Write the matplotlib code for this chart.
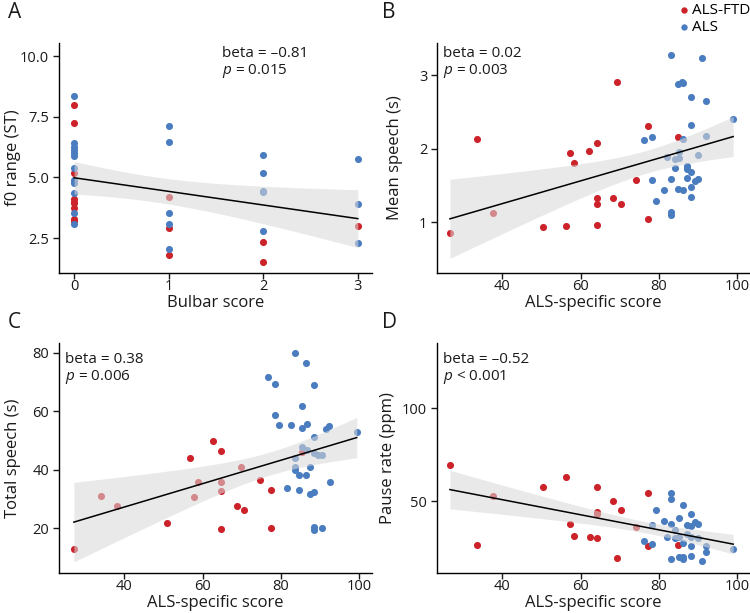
import numpy as np
import matplotlib
matplotlib.use("Agg")
import matplotlib.pyplot as plt

plt.rcParams['font.family'] = ['Open Sans', 'DejaVu Sans']
plt.rcParams['mathtext.fontset'] = 'custom'
plt.rcParams['mathtext.it'] = 'Open Sans:italic'
plt.rcParams['mathtext.rm'] = 'Open Sans'

# ---- data ----
# Panel A: f0 range (ST) vs bulbar score
a_ftd_x = [0, 0, 0, 0, 0, 0, 0, 0, 0, 1, 1, 1, 2, 2, 3]
a_ftd_y = [7.98, 7.23, 5.17, 4.09, 4.00, 3.93, 3.72, 3.27, 3.20, 4.18, 2.90, 1.80, 2.35, 1.51, 2.99]
a_als_x = [0, 0, 0, 0, 0, 0, 0, 0, 0, 0, 0, 0, 1, 1, 1, 1, 1, 2, 2, 2, 2, 2, 3, 3, 3]
a_als_y = [8.35, 6.40, 6.26, 6.13, 6.01, 5.88, 5.37, 4.89, 4.78, 4.37, 3.54, 3.10,
           7.13, 6.46, 3.52, 3.10, 2.05, 5.92, 5.19, 4.41, 4.45, 2.79, 5.74, 3.89, 2.28]

# Panel B: mean speech (s) vs ALS-specific score
b_ftd_x = [33.5, 69.3, 77.2, 85.0, 64.3, 57.4, 62.2, 58.4, 74.1, 64.3, 64.3, 68.3, 70.3,
           77.2, 50.4, 56.3, 64.3, 37.5, 26.6]
b_ftd_y = [2.13, 2.91, 2.31, 2.16, 2.08, 1.94, 1.97, 1.81, 1.58, 1.33, 1.25, 1.33, 1.25,
           1.05, 0.93, 0.95, 0.96, 1.13, 0.86]
b_als_x = [83.1, 91.0, 85.0, 86.0, 86.3, 88.2, 92.0, 99.0, 88.2, 78.2, 76.3, 86.2, 92.0,
           82.2, 84.2, 85.2, 85.2, 90.1, 84.2, 87.1, 87.1, 88.2, 83.1, 87.1, 90.1, 89.2,
           88.2, 78.2, 81.2, 85.0, 86.2, 88.2, 79.2, 83.1, 83.1]
b_als_y = [3.28, 3.23, 2.88, 2.91, 2.89, 2.70, 2.65, 2.40, 2.33, 2.16, 2.12, 2.14, 2.17,
           1.89, 1.86, 1.87, 1.95, 1.91, 1.74, 1.77, 1.72, 1.69, 1.59, 1.60, 1.59, 1.56,
           1.48, 1.57, 1.44, 1.45, 1.44, 1.34, 1.29, 1.14, 1.10]

# Panel C: total speech (s) vs ALS-specific score
c_ftd_x = [62.7, 64.8, 56.9, 85.5, 74.7, 77.5, 68.7, 70.6, 50.9, 64.7, 77.5, 27.1, 69.7,
           58.8, 64.7, 64.7, 57.8, 34.0, 38.0]
c_ftd_y = [49.8, 46.5, 44.1, 46.2, 36.5, 33.1, 27.5, 26.2, 21.6, 19.6, 20.1, 12.8, 40.8,
           35.8, 35.9, 32.8, 30.7, 31.1, 27.4]
c_als_x = [83.6, 86.5, 76.6, 78.6, 88.5, 85.5, 78.6, 79.6, 82.6, 85.4, 86.6, 91.5, 92.4,
           99.4, 88.5, 85.5, 86.6, 88.5, 89.6, 90.6, 83.7, 83.7, 83.7, 87.5, 84.6, 86.5,
           92.5, 81.6, 84.6, 87.5, 88.6, 88.5, 88.5, 90.5]
c_als_y = [80.1, 76.5, 71.7, 69.5, 69.1, 61.9, 58.6, 55.4, 55.2, 54.3, 55.7, 53.9, 55.1,
           52.8, 51.3, 47.7, 46.7, 45.6, 45.0, 44.9, 43.9, 40.8, 39.9, 41.0, 38.1, 38.3,
           35.8, 33.8, 33.0, 31.7, 32.2, 20.2, 19.3, 19.9]

# Panel D: pause rate (ppm) vs ALS-specific score
d_ftd_x = [26.6, 37.5, 33.5, 50.4, 56.3, 64.3, 68.3, 70.3, 64.3, 64.3, 57.4, 58.4, 62.4,
           64.3, 69.3, 74.1, 77.2, 77.2, 85.0]
d_ftd_y = [69.2, 52.9, 26.2, 57.4, 62.9, 57.7, 50.0, 45.2, 44.2, 43.0, 37.5, 31.2, 30.5,
           30.3, 19.2, 36.0, 54.5, 25.8, 26.3]
d_als_x = [83.1, 83.1, 86.2, 79.2, 88.2, 85.2, 81.2, 78.2, 83.2, 89.2, 90.1, 88.2, 87.2,
           84.2, 82.2, 84.2, 85.2, 87.2, 88.2, 90.1, 76.3, 78.2, 86.2, 88.2, 92.0, 92.0,
           99.0, 83.1, 85.2, 86.2, 86.2, 88.2, 91.1]
d_als_y = [54.1, 51.1, 47.8, 45.2, 43.0, 41.0, 39.2, 37.1, 37.5, 38.5, 37.6, 36.6, 36.9,
           34.4, 30.8, 30.3, 30.8, 32.1, 30.8, 30.3, 28.5, 26.7, 27.3, 25.8, 25.8, 22.7,
           24.0, 18.7, 19.7, 19.7, 18.8, 20.6, 17.7]

group_labels = ["ALS-FTD", "ALS"]
stats_text = [("beta = \u20130.81", "$p$ = 0.015"),
              ("beta = 0.02", "$p$ = 0.003"),
              ("beta = 0.38", "$p$ = 0.006"),
              ("beta = \u20130.52", "$p$ < 0.001")]

# Colours
color_ftd = "#CC2229"
color_als = "#4A7CC0"
color_band = "#D9D9D9"
T_CRIT = 2.01
TXT = "#1a1a1a"


def fit_band(x, y, n_grid=100):
    """OLS line with 95% confidence band, like a regplot."""
    x = np.asarray(x, float)
    y = np.asarray(y, float)
    slope, icpt = np.polyfit(x, y, 1)
    resid = y - (slope * x + icpt)
    s = np.sqrt(np.sum(resid ** 2) / (len(x) - 2))
    sxx = np.sum((x - x.mean()) ** 2)
    grid = np.linspace(x.min(), x.max(), n_grid)
    fit = slope * grid + icpt
    se = s * np.sqrt(1 / len(x) + (grid - x.mean()) ** 2 / sxx)
    return grid, fit, fit - T_CRIT * se, fit + T_CRIT * se


def draw_panel(ax, ftd_x, ftd_y, als_x, als_y, stats, text_pos):
    ax.scatter(ftd_x, ftd_y, s=26, color=color_ftd, linewidths=0, zorder=2, label=group_labels[0])
    ax.scatter(als_x, als_y, s=26, color=color_als, linewidths=0, zorder=2, label=group_labels[1])

    # band goes on top of the dots (that is why dots under it look washed out)
    gx, gy, lo, hi = fit_band(list(ftd_x) + list(als_x), list(ftd_y) + list(als_y))
    ax.fill_between(gx, lo, hi, color=color_band, alpha=0.56, linewidth=0, zorder=3)
    ax.plot(gx, gy, color="black", linewidth=1.1, zorder=4)

    ax.text(text_pos[0], text_pos[1], stats[0] + "\n" + stats[1], transform=ax.transAxes,
            fontsize=11, va="top", ha="left", linespacing=1.05, color=TXT)

    for side in ("top", "right"):
        ax.spines[side].set_visible(False)
    for side in ("left", "bottom"):
        ax.spines[side].set_linewidth(1.0)
    ax.tick_params(direction="out", length=4, width=1, labelsize=10.5, colors=TXT)
    ax.tick_params(axis="x", pad=0.5)
    ax.tick_params(axis="y", pad=3)


W, H = 750, 613
fig = plt.figure(figsize=(W / 100, H / 100), dpi=100)


def px_axes(left, top, right, bottom):
    return fig.add_axes([left / W, 1 - bottom / H, (right - left) / W, (bottom - top) / H])


ax_a = px_axes(59, 43, 372, 273)
ax_b = px_axes(437, 43, 750, 273)
ax_c = px_axes(59, 343, 372, 573)
ax_d = px_axes(437, 343, 750, 573)

draw_panel(ax_a, a_ftd_x, a_ftd_y, a_als_x, a_als_y, stats_text[0], (0.52, 0.985))
draw_panel(ax_b, b_ftd_x, b_ftd_y, b_als_x, b_als_y, stats_text[1], (0.02, 0.985))
draw_panel(ax_c, c_ftd_x, c_ftd_y, c_als_x, c_als_y, stats_text[2], (0.02, 0.96))
draw_panel(ax_d, d_ftd_x, d_ftd_y, d_als_x, d_als_y, stats_text[3], (0.02, 0.96))

# Axis limits / ticks
ax_a.set_xlim(-0.16, 3.15)
ax_a.set_ylim(1.06, 10.54)
ax_a.set_xticks([0, 1, 2, 3])
ax_a.set_yticks([2.5, 5.0, 7.5, 10.0])
ax_a.set_yticklabels(["2.5", "5.0", "7.5", "10.0"])

ax_b.set_ylim(0.31, 3.44)
ax_b.set_yticks([1, 2, 3])
ax_c.set_ylim(4.6, 83.4)
ax_c.set_yticks([20, 40, 60, 80])
ax_d.set_ylim(11.3, 135)
ax_d.set_yticks([50, 100])

for ax in (ax_b, ax_c, ax_d):
    ax.set_xlim(23.3, 103.3)
    ax.set_xticks([40, 60, 80, 100])

# Labels
lab_kw = dict(fontsize=12, color=TXT, va="center")
xlabels = ["Bulbar score", "ALS-specific score", "ALS-specific score", "ALS-specific score"]
ylabels = ["f0 range (ST)", "Mean speech (s)", "Total speech (s)", "Pause rate (ppm)"]
ylab_x = [-0.147, -0.134, -0.147, -0.157]
for ax, xl, yl, yx in zip((ax_a, ax_b, ax_c, ax_d), xlabels, ylabels, ylab_x):
    ax.set_xlabel(xl, **lab_kw)
    ax.set_ylabel(yl, **lab_kw)
    ax.xaxis.set_label_coords(0.5, -0.132)
    ax.yaxis.set_label_coords(yx, 0.5)

# Panel letters
for letter, (x, y) in zip("ABCD", [(8, 12), (382, 12), (8, 322), (382, 322)]):
    fig.text(x / W, 1 - y / H, letter, fontsize=15, ha="left", va="center", color=TXT)

# Legend (top right, above panel B)
handles, labels = ax_b.get_legend_handles_labels()
fig.legend(handles, labels, loc="upper right", bbox_to_anchor=(1.012, 1.01), frameon=False,
           fontsize=11, handletextpad=0.0, labelspacing=0.15, borderaxespad=0.2,
           markerscale=0.9, handlelength=1.0)

fig.savefig("out.png", dpi=100)
